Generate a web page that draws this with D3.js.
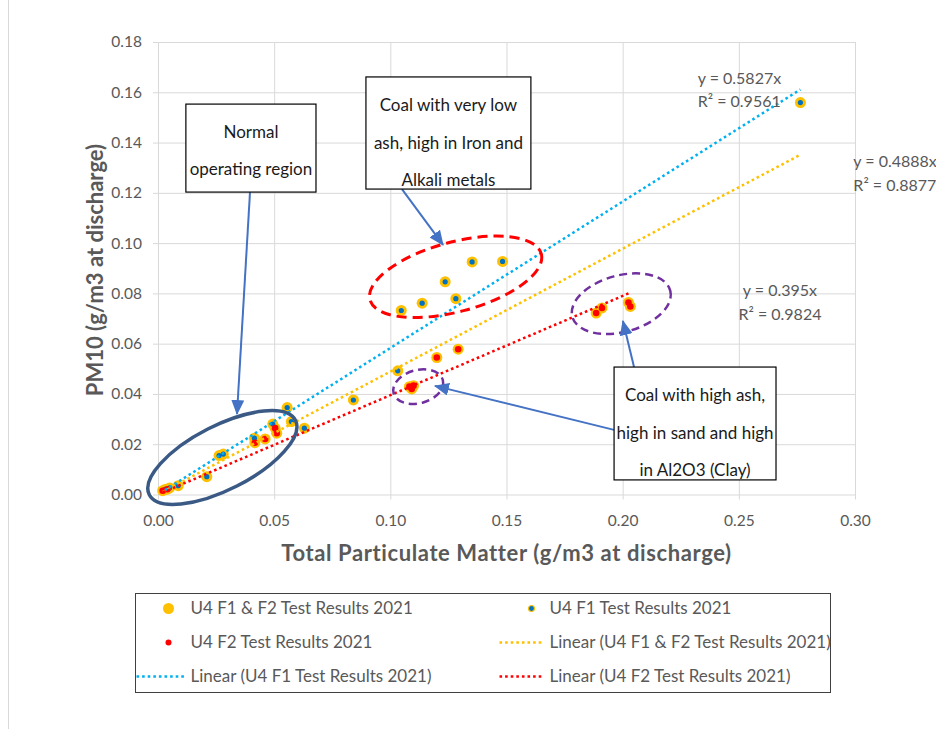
<!DOCTYPE html>
<html>
<head>
<meta charset="utf-8">
<script src="https://cdn.jsdelivr.net/npm/d3@7"></script>
<style>
  body { margin: 0; background: #fff; }
  text { font-family: Lato, "Open Sans", sans-serif; }
</style>
</head>
<body>
<div id="chart"></div>
<script>
// points: [TPM, PM10]
const f1Points = [
    [0.003, 0.0020], [0.005, 0.0026], [0.0087, 0.0035], [0.021, 0.0071],
    [0.0263, 0.0155], [0.0281, 0.0161], [0.0415, 0.0224], [0.0494, 0.0280],
    [0.0556, 0.0346], [0.0574, 0.0290], [0.063, 0.0264], [0.0841, 0.0376],
    [0.1032, 0.0492], [0.1047, 0.0732], [0.1137, 0.0761], [0.1236, 0.0846],
    [0.1282, 0.0779], [0.1352, 0.0925], [0.1483, 0.0927], [0.2765, 0.1559]
];
const f2Points = [
    [0.002, 0.0015], [0.004, 0.0021], [0.0417, 0.0206], [0.0461, 0.0221],
    [0.0504, 0.0264], [0.0511, 0.0244], [0.1082, 0.0429], [0.1100, 0.0433],
    [0.1092, 0.0420], [0.1200, 0.0545], [0.1292, 0.0578], [0.1886, 0.0722],
    [0.1911, 0.0742], [0.2025, 0.0764], [0.2033, 0.0748]
];
const allPoints = f1Points.concat(f2Points);

const xTicks = [0, 0.05, 0.10, 0.15, 0.20, 0.25, 0.30];
const yTicks = [0, 0.02, 0.04, 0.06, 0.08, 0.10, 0.12, 0.14, 0.16, 0.18];

// trendlines through origin: slope, R², label position (data units)
const trends = [
    {name: "all", slope: 0.4888, r2: "0.8877", color: "#FFC000", pts: allPoints, lx: 0.2993, ly: 0.1324, anchor: "start"},
    {name: "f1", slope: 0.5827, r2: "0.9561", color: "#00B0F0", pts: f1Points, lx: 0.2323, ly: 0.1656, anchor: "start"},
    {name: "f2", slope: 0.395, r2: "0.9824", color: "#FF0000", pts: f2Points, lx: 0.2677, ly: 0.0811, anchor: "middle"}
];

// callout boxes (data units), text lines
const boxes = [
    {x0: 0.012, x1: 0.068, y0: 0.1553, y1: 0.1203, lines: ["Normal", "operating region"]},
    {x0: 0.0895, x1: 0.1605, y0: 0.1661, y1: 0.1215, lines: ["Coal with very low", "ash, high in Iron and", "Alkali metals"]},
    {x0: 0.1963, x1: 0.266, y0: 0.0507, y1: 0.0058, lines: ["Coal with high ash,", "high in sand and high", "in Al2O3 (Clay)"]}
];
const arrows = [
    {from: [0.0396, 0.1203], to: [0.034, 0.0320]},
    {from: [0.105, 0.1215], to: [0.1227, 0.0993]},
    {from: [0.1963, 0.0257], to: [0.1192, 0.0432]},
    {from: [0.2049, 0.0507], to: [0.2001, 0.0690]}
];
// ellipses: centre in data units, radii/angle in px
const ellipses = [
    {cx: 0.0277, cy: 0.0147, rx: 82, ry: 32, angle: -27, color: "#3A5A85", dash: null, w: 3.5},
    {cx: 0.1281, cy: 0.0866, rx: 88.7, ry: 34.8, angle: -15, color: "#FF0000", dash: "10,6", w: 3},
    {cx: 0.1120, cy: 0.0429, rx: 25.5, ry: 16.6, angle: -15, color: "#7030A0", dash: "8,5", w: 2.5},
    {cx: 0.1994, cy: 0.0759, rx: 50.7, ry: 28.3, angle: -15, color: "#7030A0", dash: "8,5", w: 2.5}
];

const legendItems = [
    {label: "U4 F1 & F2 Test Results 2021", kind: "all"},
    {label: "U4 F1 Test Results 2021", kind: "f1"},
    {label: "U4 F2 Test Results 2021", kind: "f2"},
    {label: "Linear (U4 F1 & F2 Test Results 2021)", kind: "trend", color: "#FFC000"},
    {label: "Linear (U4 F1 Test Results 2021)", kind: "trend", color: "#00B0F0"},
    {label: "Linear (U4 F2 Test Results 2021)", kind: "trend", color: "#FF0000"}
];

const width = 936, height = 729;
const marginLeft = 158, marginRight = 81, marginTop = 42, marginBottom = 234.5;
const grey = "#595959";

const svg = d3.select("#chart").append("svg")
    .attr("width", width)
    .attr("height", height);

svg.append("rect")
    .attr("x", 8.5).attr("y", -2)
    .attr("width", width).attr("height", height + 4)
    .attr("fill", "#fff")
    .attr("stroke", "#D9D9D9");

const x = d3.scaleLinear().domain([0, 0.3]).range([marginLeft, width - marginRight]);
const y = d3.scaleLinear().domain([0, 0.18]).range([height - marginBottom, marginTop]);
const plotW = x(0.3) - x(0), plotH = y(0) - y(0.18);

// y axis + horizontal grid
const gy = svg.append("g")
    .attr("transform", `translate(${x(0)},0)`)
    .call(d3.axisLeft(y).tickValues(yTicks).tickFormat(d3.format(".2f")).tickSize(-plotW).tickPadding(16));
gy.select(".domain").remove();
gy.selectAll("line").attr("stroke", "#D9D9D9").attr("x1", -5);
gy.selectAll("text").attr("fill", grey).style("font-size", "15.5px");

// x axis + vertical grid
const gx = svg.append("g")
    .attr("transform", `translate(0,${y(0)})`)
    .call(d3.axisBottom(x).tickValues(xTicks).tickFormat(d3.format(".2f")).tickSize(-plotH).tickPadding(20));
gx.select(".domain").remove();
gx.selectAll("line").attr("stroke", "#D9D9D9").attr("y1", 5);
gx.selectAll("text").attr("fill", grey).style("font-size", "15.5px");

// axis titles
svg.append("text")
    .attr("x", (x(0) + x(0.3)) / 2)
    .attr("y", 561)
    .attr("text-anchor", "middle")
    .attr("fill", grey)
    .style("font-size", "22px").style("font-weight", "bold")
    .style("letter-spacing", "0.6px")
    .text("Total Particulate Matter (g/m3 at discharge)");
svg.append("text")
    .attr("transform", `translate(103,270) rotate(-90)`)
    .attr("text-anchor", "middle")
    .attr("fill", grey)
    .style("font-size", "22px").style("font-weight", "bold")
    .text("PM10 (g/m3 at discharge)");

// points
svg.append("g").selectAll("circle").data(allPoints).join("circle")
    .attr("cx", d => x(d[0])).attr("cy", d => y(d[1]))
    .attr("r", 5.5).attr("fill", "#FFC000");
svg.append("g").selectAll("circle").data(f1Points).join("circle")
    .attr("cx", d => x(d[0])).attr("cy", d => y(d[1]))
    .attr("r", 2.6).attr("fill", "#0070C0");
svg.append("g").selectAll("circle").data(f2Points).join("circle")
    .attr("cx", d => x(d[0])).attr("cy", d => y(d[1]))
    .attr("r", 3.3).attr("fill", "#FF0000");

// trendlines
trends.forEach(t => {
    const [lo, hi] = d3.extent(t.pts, d => d[0]);
    svg.append("line")
        .attr("x1", x(lo)).attr("y1", y(lo * t.slope))
        .attr("x2", x(hi)).attr("y2", y(hi * t.slope))
        .attr("stroke", t.color)
        .attr("stroke-width", 2.5)
        .attr("stroke-dasharray", "2.6,3");
    const lab = svg.append("text")
        .attr("x", x(t.lx)).attr("y", y(t.ly))
        .attr("text-anchor", t.anchor)
        .attr("fill", grey)
        .style("font-size", "16px");
    lab.append("tspan").attr("x", x(t.lx)).attr("dy", "0.35em").text(`y = ${t.slope}x`);
    lab.append("tspan").attr("x", x(t.lx)).attr("dy", "1.47em").text(`R² = ${t.r2}`);
});

// ellipses
svg.append("g").selectAll("ellipse").data(ellipses).join("ellipse")
    .attr("transform", d => `translate(${x(d.cx)},${y(d.cy)}) rotate(${d.angle})`)
    .attr("rx", d => d.rx).attr("ry", d => d.ry)
    .attr("fill", "none")
    .attr("stroke", d => d.color)
    .attr("stroke-width", d => d.w)
    .attr("stroke-dasharray", d => d.dash);

// arrows
svg.append("defs").append("marker")
    .attr("id", "head")
    .attr("markerUnits", "userSpaceOnUse")
    .attr("markerWidth", 15).attr("markerHeight", 13)
    .attr("refX", 14).attr("refY", 6.5)
    .attr("orient", "auto")
    .append("path")
    .attr("d", "M0,0 L15,6.5 L0,13 z")
    .attr("fill", "#4472C4");
svg.append("g").selectAll("line").data(arrows).join("line")
    .attr("x1", d => x(d.from[0])).attr("y1", d => y(d.from[1]))
    .attr("x2", d => x(d.to[0])).attr("y2", d => y(d.to[1]))
    .attr("stroke", "#4472C4")
    .attr("stroke-width", 2)
    .attr("marker-end", "url(#head)");

// callout boxes
boxes.forEach(b => {
    const g = svg.append("g");
    g.append("rect")
        .attr("x", x(b.x0)).attr("y", y(b.y0))
        .attr("width", x(b.x1) - x(b.x0)).attr("height", y(b.y1) - y(b.y0))
        .attr("fill", "#fff").attr("stroke", "#000").attr("stroke-width", 1.2);
    const step = 37.5;
    const first = b.lines.length === 2 ? 27.5 : 28.5;
    b.lines.forEach((l, i) => {
        g.append("text")
            .attr("x", (x(b.x0) + x(b.x1)) / 2)
            .attr("y", y(b.y0) + first + i * step)
            .attr("dy", "0.35em")
            .attr("text-anchor", "middle")
            .attr("fill", "#1a1a1a")
            .style("font-size", "17px")
            .text(l);
    });
});

// legend
const legend = svg.append("g").attr("transform", "translate(135.5,593.5)");
legend.append("rect")
    .attr("width", 695).attr("height", 99)
    .attr("fill", "#fff").attr("stroke", "#404040").attr("stroke-width", 1);
legendItems.forEach((d, i) => {
    const col = i % 2, row = Math.floor(i / 2);
    const gx0 = col === 0 ? 0 : 359;
    const cy = 15 + row * 34;
    const g = legend.append("g").attr("transform", `translate(${gx0},${cy})`);
    if (d.kind === "all") {
        g.append("circle").attr("cx", 33).attr("r", 5.5).attr("fill", "#FFC000");
    } else if (d.kind === "f1") {
        g.append("circle").attr("cx", 33 + 4).attr("r", 3).attr("fill", "#0070C0")
            .attr("stroke", "#FFC000").attr("stroke-width", 1.2);
    } else if (d.kind === "f2") {
        g.append("circle").attr("cx", 33).attr("r", 3).attr("fill", "#FF0000");
    } else {
        g.append("line").attr("x1", col === 0 ? 1 : 5).attr("x2", 49)
            .attr("stroke", d.color).attr("stroke-width", 2.5)
            .attr("stroke-dasharray", "2.6,3");
    }
    g.append("text")
        .attr("x", 55)
        .attr("dy", "0.35em")
        .attr("fill", grey)
        .style("font-size", "17px")
        .text(d.label);
});
</script>
</body>
</html>
